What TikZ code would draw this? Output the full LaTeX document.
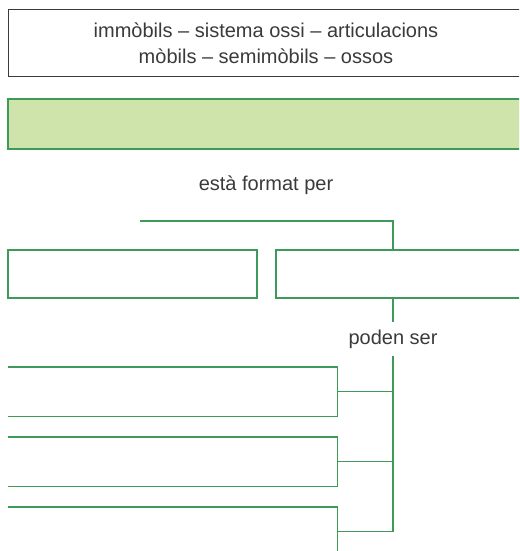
\documentclass[tikz,border=0pt]{standalone}
\usepackage{fontspec}
\setmainfont{Liberation Sans}

\definecolor{leaf}{HTML}{3E9A58}
\definecolor{lightleaf}{HTML}{CFE4AA}
\definecolor{ink}{HTML}{3A3A3A}

\tikzstyle{box} = [rectangle, minimum width=516pt, minimum height=66pt, text centered, align=center, draw=ink, line width=1pt]
\tikzstyle{topic} = [rectangle, minimum width=516pt, minimum height=50pt, draw=leaf, fill=lightleaf, line width=1.4pt]
\tikzstyle{part} = [rectangle, minimum width=249pt, minimum height=48pt, draw=leaf, line width=1.4pt]
\tikzstyle{slot} = [rectangle, minimum width=329pt, minimum height=49pt, inner sep=0pt]
\tikzstyle{link} = [leaf, line width=1.4pt]

\begin{document}
\begin{tikzpicture}[x=1pt, y=-1pt, font=\fontsize{20}{26}\selectfont, text=ink]
  \clip (0,0) rectangle (519,551);

  \node (Word List) [box] at (266,43) {immòbils – sistema ossi – articulacions\\mòbils – semimòbils – ossos};
  \node (Concept) [topic] at (266,124) {};
  \node (Format Label) at (266,185) {està format per};
  \node (Left Part) [part] at (132.5,274) {};
  \node (Right Part) [part] at (400.5,274) {};
  \node (Kinds Label) [inner xsep=2pt, inner ysep=7pt] at (393,339) {poden ser};
  \node (Kind One) [slot] at (172.5,391.5) {};
  \node (Kind Two) [slot] at (172.5,461.5) {};
  \node (Kind Three) [slot] at (172.5,531.5) {};

  \coordinate (Fork) at (140,221);
  \coordinate (Spine) at (393,0);

  \draw [link] (Fork) -| (Right Part.north -| Spine);
  \draw [link] (Right Part.south -| Spine) -- (Kinds Label.north);
  \draw [link] (Kinds Label.south) -- (Kind Three.east -| Spine);

  \draw [link] (Kind One.north west) -- (Kind One.north east) -- (Kind One.south east) -- (Kind One.south west);
  \draw [link] (Kind Two.north west) -- (Kind Two.north east) -- (Kind Two.south east) -- (Kind Two.south west);
  \draw [link] (Kind Three.north west) -- (Kind Three.north east) -- (Kind Three.south east) -- (Kind Three.south west);

  \draw [link] (Kind One.east) -- (Kind One.east -| Spine);
  \draw [link] (Kind Two.east) -- (Kind Two.east -| Spine);
  \draw [link] (Kind Three.east) -- (Kind Three.east -| Spine);
\end{tikzpicture}
\end{document}
